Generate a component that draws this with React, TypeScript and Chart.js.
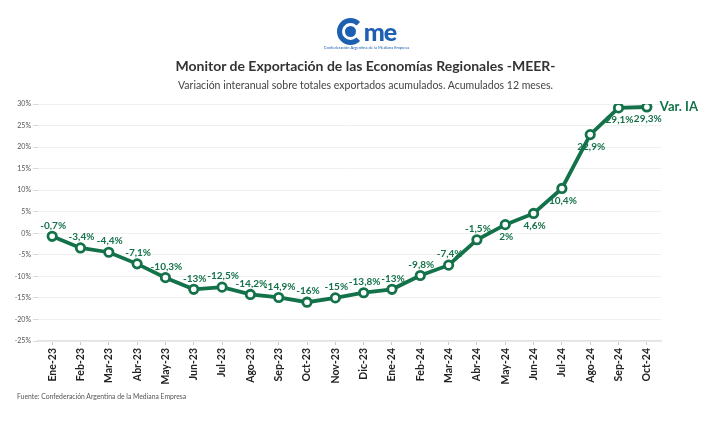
import React, { useEffect, useRef } from "react";
import { Chart, registerables } from "chart.js";

Chart.register(...registerables);

const categories = [
  "Ene-23", "Feb-23", "Mar-23", "Abr-23", "May-23", "Jun-23", "Jul-23", "Ago-23",
  "Sep-23", "Oct-23", "Nov-23", "Dic-23", "Ene-24", "Feb-24", "Mar-24", "Abr-24",
  "May-24", "Jun-24", "Jul-24", "Ago-24", "Sep-24", "Oct-24",
];
const varIA = [
  -0.7, -3.4, -4.4, -7.1, -10.3, -13, -12.5, -14.2, -14.9, -16, -15, -13.8, -13,
  -9.8, -7.4, -1.5, 2, 4.6, 10.4, 22.9, 29.1, 29.3,
];
const seriesName = "Var. IA";
const yTicks = { min: -25, max: 30, step: 5 };

const GREEN = "#137249";
const FONT = "Lato, 'Open Sans', sans-serif";

const fmt = (v: number) => String(v).replace(".", ",") + "%";

const labelPlugin = {
  id: "pointLabels",
  afterDatasetsDraw(chart: any) {
    const ctx = chart.ctx;
    const meta = chart.getDatasetMeta(0);
    const data = chart.data.datasets[0].data as number[];
    ctx.save();
    ctx.font = `bold 10px ${FONT}`;
    ctx.fillStyle = GREEN;
    ctx.textAlign = "center";
    ctx.textBaseline = "middle";
    meta.data.forEach((pt: any, i: number) => {
      const v = data[i];
      const dy = v < 0 ? -11 : 12;
      ctx.fillText(fmt(v), pt.x + 1, pt.y + dy);
    });
    const last = meta.data[meta.data.length - 1];
    ctx.font = `bold 13px ${FONT}`;
    ctx.textAlign = "left";
    ctx.fillText(seriesName, last.x + 13, last.y);
    ctx.restore();
  },
};

export default function App() {
  const ref = useRef<HTMLCanvasElement>(null);
  useEffect(() => {
    document.body.style.margin = "0";
    const chart = new Chart(ref.current!, {
      type: "line",
      data: {
        labels: categories,
        datasets: [
          {
            label: seriesName,
            data: varIA,
            borderColor: GREEN,
            borderWidth: 3.8,
            pointBackgroundColor: "#ffffff",
            pointBorderColor: GREEN,
            pointBorderWidth: 2.8,
            pointRadius: 4.2,
            tension: 0,
          },
        ],
      },
      options: {
        responsive: false,
        animation: false,
        layout: { padding: { top: 104, right: 52, bottom: 0, left: 0 } },
        plugins: { legend: { display: false }, tooltip: { enabled: false } },
        scales: {
          x: {
            offset: true,
            afterFit: (s: any) => { s.height = 86; },
            grid: { drawOnChartArea: false, tickLength: 4, color: "#ccc" },
            border: { display: true, color: "#e2e2e2", width: 1.5 },
            ticks: {
              minRotation: 90,
              maxRotation: 90,
              autoSkip: false,
              padding: 3,
              color: "#222",
              font: { family: FONT, size: 10.5, weight: "bold" },
            },
          },
          y: {
            min: yTicks.min,
            max: yTicks.max,
            afterFit: (s: any) => { s.width = 38; },
            grid: { color: "#f0f0f0", tickLength: 5, tickColor: "#d8d8d8" },
            border: { display: false },
            ticks: {
              stepSize: yTicks.step,
              padding: 2,
              color: "#555",
              font: { family: FONT, size: 7 },
              callback: (v: any) => v + "%",
            },
          },
        },
      },
      plugins: [labelPlugin],
    });
    return () => chart.destroy();
  }, []);

  return (
    <div style={{ position: "relative", width: 713, height: 427, background: "#fff", fontFamily: FONT }}>
      <canvas ref={ref} width={713} height={427} style={{ position: "absolute", left: 0, top: 0 }} />
      <div style={{ position: "absolute", left: 10, width: 713, top: 18, display: "flex", justifyContent: "center" }}>
        <div style={{ display: "flex", alignItems: "center", height: 26 }}>
          <div style={{ width: 17, height: 17, borderRadius: "50%", border: "5px solid #1d5fb0", borderRightColor: "transparent", position: "relative" }}>
            <div style={{ position: "absolute", left: 3, top: 3, width: 11, height: 11, borderRadius: "50%", background: "#1d5fb0" }} />
          </div>
          <span style={{ color: "#1d5fb0", fontWeight: 900, fontSize: 25, lineHeight: "24px", marginLeft: 0, letterSpacing: -1 }}>me</span>
        </div>
      </div>
      <div style={{ position: "absolute", left: 10, width: 713, top: 45, textAlign: "center", fontSize: 4, color: "#1d5fb0" }}>
        Confederación Argentina de la Mediana Empresa
      </div>
      <div style={{ position: "absolute", left: 0, width: 731, top: 57, textAlign: "center", fontSize: 14, fontWeight: "bold", color: "#333" }}>
        Monitor de Exportación de las Economías Regionales -MEER-
      </div>
      <div style={{ position: "absolute", left: 0, width: 731, top: 79, textAlign: "center", fontSize: 10.5, color: "#444" }}>
        Variación interanual sobre totales exportados acumulados. Acumulados 12 meses.
      </div>
      <div style={{ position: "absolute", left: 17, top: 392, fontSize: 6.8, color: "#555" }}>
        Fuente: Confederación Argentina de la Mediana Empresa
      </div>
    </div>
  );
}
